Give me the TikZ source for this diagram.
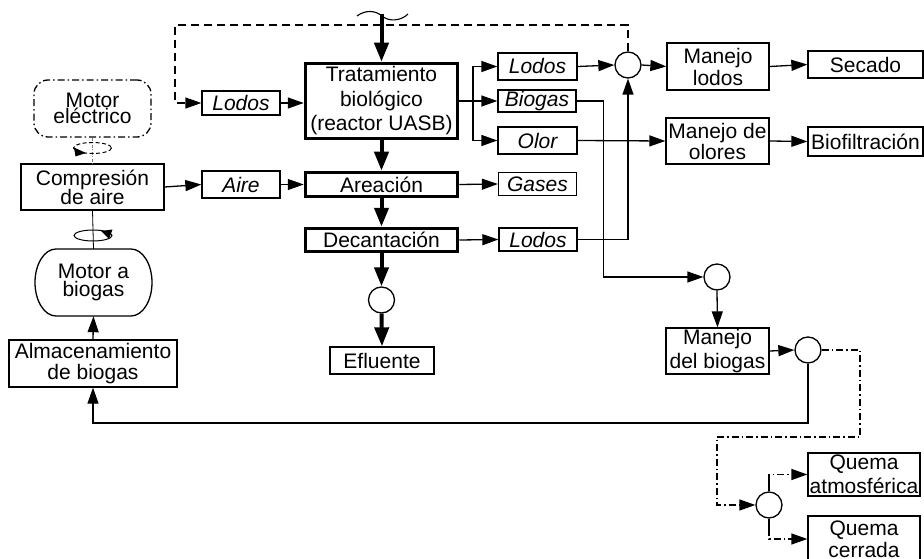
\documentclass[tikz,border=0pt]{standalone}
\usepackage{fontspec}
\setmainfont{Liberation Sans}
\usetikzlibrary{arrows.meta}
\newcommand{\fs}[1]{\fontsize{21}{#1}\selectfont\lineskiplimit=-30pt\lineskip=0pt}
\begin{document}
\begin{tikzpicture}[x=1pt,y=-1pt,
 every node/.style={font=\fs{22}},
 box/.style={draw, line width=1.3pt, inner sep=0pt, align=center, rectangle},
 tbox/.style={box, line width=3.5pt},
 ibox/.style={box, font=\fs{22}\itshape},
 circ/.style={draw, circle, line width=1.3pt, minimum size=26pt, inner sep=0pt},
 ar/.style={line width=1.3pt, -{Triangle[length=16pt,width=11pt]}},
 tar/.style={line width=4pt, -{Triangle[length=19pt,width=14pt]}},
 ln/.style={line width=1.3pt},
 dd/.style={line width=1.3pt, dash pattern=on 7pt off 3pt on 1.5pt off 3pt},
 dsh/.style={line width=1.3pt, dash pattern=on 8pt off 5pt},
]
\useasboundingbox (0,0) rectangle (924,559);
\fill[white] (0,0) rectangle (924,559);

% nodes
\node[ibox, minimum width=78, minimum height=24] (lodosL) at (241,103) {Lodos};
\node[tbox, minimum width=152, minimum height=75, font=\fs{24.5}] (trat) at (381.5,101) {Tratamiento\\biológico\\(reactor UASB)};
\node[box, dd, rounded corners=14, minimum width=117, minimum height=57, font=\fs{16}] (motorE) at (92.5,108.5) {Motor\\eléctrico};
\node[box, minimum width=143, minimum height=46, font=\fs{19}] (comp) at (92.5,187) {Compresión\\de aire};
\node[ibox, minimum width=78, minimum height=27] (aire) at (241,184.5) {Aire};
\node[tbox, minimum width=152, minimum height=24] (area) at (381.5,184.5) {Areación};
\node[ibox, minimum width=78, minimum height=23] (gases) at (537.5,184) {Gases};
\node[tbox, minimum width=152, minimum height=23] (deca) at (381.5,240) {Decantación};
\node[ibox, minimum width=78, minimum height=23] (lodosB) at (538,239.5) {Lodos};
\node[circ] (c1) at (381.5,300) {};
\node[box, minimum width=104, minimum height=27] (eflu) at (382,360.5) {Efluente};
\node[inner sep=0pt, minimum width=117, minimum height=67, align=center, font=\fs{17.5}] (motorB) at (93.5,282.5) {Motor a\\biogas};
\draw[ln] (56,249) -- (131,249) arc[start angle=-90, end angle=90, x radius=21, y radius=33.5]
  -- (56,316) arc[start angle=90, end angle=270, x radius=21, y radius=33.5] -- cycle;
\node[box, minimum width=168, minimum height=47, font=\fs{21.5}] (alm) at (93,363.5) {Almacenamiento\\de biogas};
\node[ibox, minimum width=79, minimum height=27] (lodosR) at (537.5,66.5) {Lodos};
\node[ibox, minimum width=78, minimum height=22] (biogas) at (537,101) {Biogas};
\node[ibox, minimum width=79, minimum height=27] (olor) at (537.5,140.5) {Olor};
\node[circ] (cL) at (628,65) {};
\node[box, minimum width=102, minimum height=47] (manL) at (718,66.5) {Manejo\\lodos};
\node[box, minimum width=115, minimum height=27] (secado) at (865.5,64.5) {Secado};
\node[box, minimum width=103, minimum height=46, font=\fs{21}] (manO) at (717.5,141) {Manejo de\\olores};
\node[box, minimum width=115, minimum height=29] (biof) at (865.5,141.5) {Biofiltración};
\node[circ] (cB) at (717,277) {};
\node[box, minimum width=103, minimum height=46, font=\fs{24}] (manB) at (717.5,351) {Manejo\\del biogas};
\node[circ] (cM) at (808,350) {};
\node[circ] (cQ) at (769,505) {};
\node[box, minimum width=112, minimum height=43, font=\fs{24}] (qatm) at (864,474.5) {Quema\\atmosférica};
\node[box, minimum width=112, minimum height=46, font=\fs{22}, text depth=0pt] (qcer) at (864,539) {Quema\\cerrada};

% input
\coordinate (in) at (381.5,14);
\draw[line width=1.1pt] (357,16) .. controls (365,10) and (375,10) .. (382,16) .. controls (389,22) and (401,21) .. (408,14);
\draw[tar] (in) -- (trat.north);

% main thick chain
\draw[tar] (trat.south) -- (area.north);
\draw[tar] (area.south) -- (deca.north);
\draw[tar] (deca.south) -- (c1.north);
\draw[tar] (c1.south) -- (eflu.north);

% left side
\draw[dsh, -{Triangle[length=16pt,width=11pt]}] (cL.north) |- (175,25) |- (lodosL.west);
\draw[ar] (lodosL.east) -- (lodosL.east -| trat.west);
\draw[ar] (comp.east) -- (aire.west);
\draw[ar] (aire.east) -- (area.west);
\draw[ar] (area.east) -- (gases.west);
\draw[ar] (deca.east) -- (lodosB.west);

% motors
\draw[gray, line width=0.6pt, dash pattern=on 3pt off 1.5pt on 1pt off 1.5pt] (motorE.south) -- (comp.north);
\draw[line width=1pt, dash pattern=on 4pt off 2.5pt] (92.5,148) ellipse [x radius=19, y radius=5.5];
\fill (86,153) -- (74,147.5) -- (75.5,156.5) -- cycle;
\draw[line width=0.8pt] (comp.south) -- (motorB.north);
\draw[line width=1pt] (93,235.5) ellipse [x radius=19, y radius=5.5];
\fill (101,231) -- (112.5,229.5) -- (109,239) -- cycle;
\draw[ar] (alm.north) -- (motorB.south);

% right branch
\coordinate (jn) at (473,101);
\draw[line width=2.5pt] (trat.east) -- (jn);
\draw[ar] (jn) -- (biogas.west);
\draw[ar] (jn) |- (lodosR.west);
\draw[ar] (jn) |- (olor.west);
\draw[ar] (lodosR.east) -- (cL.west);
\draw[ar] (cL.east) -- (manL.west);
\draw[ar] (manL.east) -- (secado.west);
\draw[ar] (olor.east) -- (manO.west);
\draw[ar] (manO.east) -- (biof.west);
\draw[ar] (biogas.east) -- ++(27,0) |- (cB.west);
\draw[ar] (lodosB.east) -| (cL.south);
\draw[ar] (cB.south) -- (manB.north);
\draw[ar] (manB.east) -- (cM.west);
\draw[ar] (cM.south) -- (808,423) -| (alm.south);
\draw[dd, -{Triangle[length=16pt,width=11pt]}] (cM.east) -| (860,437) -| (717,505) -- (cQ.west);
\coordinate (qa) at (769,481);
\coordinate (qc) at (769,529);
\draw[ln] (cQ.north) -- (qa);
\draw[dd, -{Triangle[length=16pt,width=11pt]}] (qa) |- (qatm.west);
\draw[ln] (cQ.south) -- (qc);
\draw[dd, -{Triangle[length=16pt,width=11pt]}] (qc) |- (qcer.west);
\end{tikzpicture}
\end{document}
